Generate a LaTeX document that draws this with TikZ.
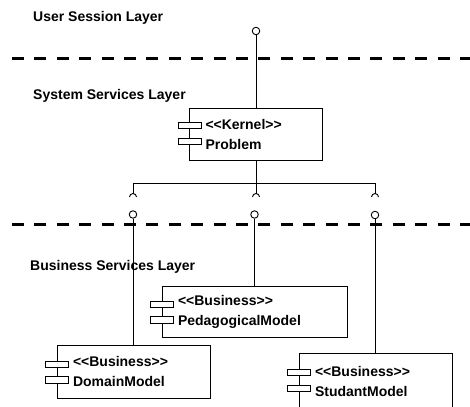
\documentclass[tikz,border=0pt]{standalone}
\usepackage{fontspec}
\setmainfont{Liberation Sans}[Ligatures=TeXOff]
\usepackage{tikz}

\begin{document}
\begin{tikzpicture}[
x=1pt, y=1pt,
layername/.style={font=\bfseries\fontsize{14}{20}\selectfont, inner sep=0pt},
comp/.style={draw, line width=0.9pt, align=left, inner xsep=16pt, inner ysep=0pt, font=\bfseries\fontsize{14}{20}\selectfont},
plug/.style={draw, fill=white, line width=0.9pt, minimum width=23pt, minimum height=6.5pt, inner sep=0pt},
iface/.style={draw, fill=white, circle, line width=0.9pt, minimum size=7.5pt, inner sep=0pt},
wire/.style={line width=0.9pt},
layerline/.style={line width=3pt, dash pattern=on 12pt off 10.4pt} ]

\path[use as bounding box, clip] (0,0) rectangle (470,-406);

% layers
\node[layername, anchor=base west] (userlayer) at (33,-21.5) {User Session Layer};

\node[layername, anchor=base west] (syslayer) at (33,-99.3) {System Services Layer};

\node[layername, anchor=base west] (buslayer) at (30,-270) {Business Services Layer};

\draw[layerline] (12,-59) -- (470,-59);

\draw[layerline] (12,-224.5) -- (470,-224.5);

% components
\node[comp, text width=101pt, minimum height=52pt] (kernel) at (256,-134) {<<Kernel>>\\Problem};

\node[comp, text width=153pt, minimum height=51pt] (pedag) at (254.5,-311.5) {<<Business>>\\PedagogicalModel};

\node[comp, text width=121pt, minimum height=53pt] (domain) at (133.5,-371.5) {<<Business>>\\DomainModel};

\node[comp, text width=121pt, minimum height=56pt] (studant) at (375.5,-381.5) {<<Business>>\\StudantModel};

\node[plug] (kernelp1) at (189.5,-125.5) {};
\node[plug] (kernelp2) at (189.5,-141.5) {};

\node[plug] (pedagp1) at (162,-304.3) {};
\node[plug] (pedagp2) at (162,-320) {};

\node[plug] (domainp1) at (57,-364.3) {};
\node[plug] (domainp2) at (57,-380) {};

\node[plug] (studantp1) at (299,-372.5) {};
\node[plug] (studantp2) at (299,-388.5) {};

% interfaces
\node[iface] (usi) at (256,-31) {};

\node[iface] (domaini) at (133,-214.5) {};
\node[iface] (pedagi) at (254.5,-214.5) {};
\node[iface] (studanti) at (375,-215) {};

\coordinate (hub) at (256,-183);
\coordinate (hubl) at (133,-183);
\coordinate (hubr) at (375,-183);

\coordinate (sockl) at (133,-193.5);
\coordinate (sockp) at (256,-193.5);
\coordinate (sockr) at (375,-193.5);

% wires
\draw[wire] (usi) -- (kernel);

\draw[wire] (kernel) -- (hub);

\draw[wire] (hubl) -- (hubr);

\draw[wire] (hubl) -- (sockl);
\draw[wire] (hub) -- (sockp);
\draw[wire] (hubr) -- (sockr);

\draw[wire] (sockl) ++(-3.5,-3.5) arc[start angle=180, end angle=0, radius=3.5];
\draw[wire] (sockp) ++(-3.5,-3.5) arc[start angle=180, end angle=0, radius=3.5];
\draw[wire] (sockr) ++(-3.5,-3.5) arc[start angle=180, end angle=0, radius=3.5];

\draw[wire] (domaini) -- (domaini |- domain.north);

\draw[wire] (pedagi) -- (pedagi |- pedag.north);

\draw[wire] (studanti) -- (studanti |- studant.north);
\end{tikzpicture}
\end{document}
